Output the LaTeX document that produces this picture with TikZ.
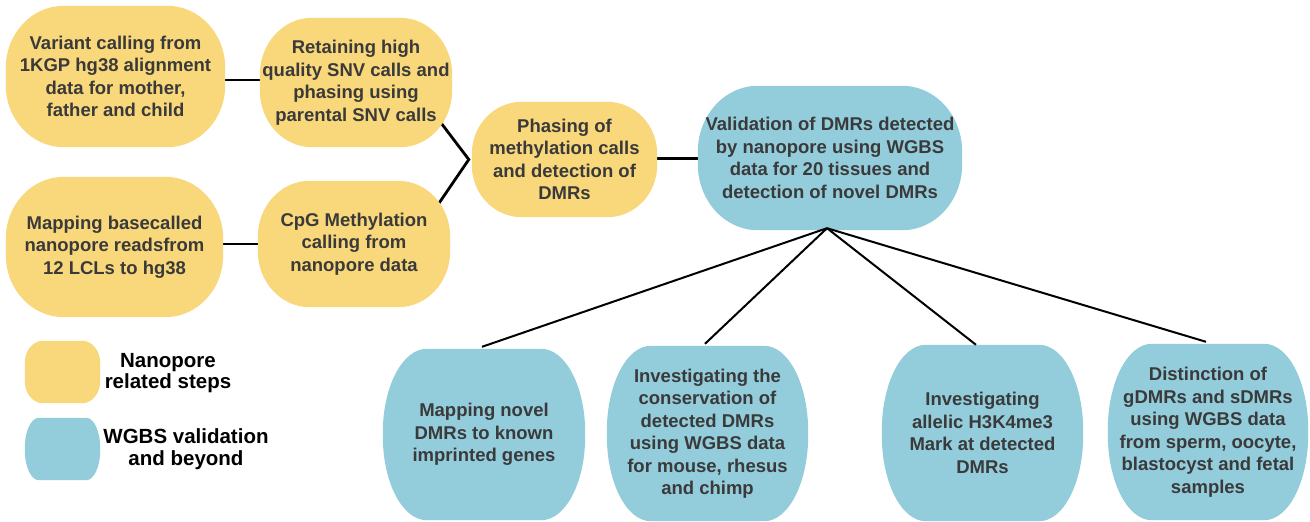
\documentclass[tikz,border=0pt]{standalone}
\usepackage{fontspec}
\setmainfont{Liberation Sans}
\usetikzlibrary{calc}
\definecolor{nano}{HTML}{F9D77B}
\definecolor{wgbs}{HTML}{93CDDC}
\definecolor{txt}{HTML}{3A3A3A}
\pgfdeclarelayer{bg}
\pgfdeclarelayer{lines}
\pgfdeclarelayer{shapes}
\pgfsetlayers{bg,lines,shapes,main}
\newcommand\blobfill[4]{%
\begin{pgfonlayer}{shapes}
\fill[#2] ([xshift=#3]#1.north west) -- ([xshift=-#3]#1.north east)
 arc[start angle=90,end angle=0,x radius=#3,y radius=#4]
 -- ([yshift=#4]#1.south east)
 arc[start angle=0,end angle=-90,x radius=#3,y radius=#4]
 -- ([xshift=#3]#1.south west)
 arc[start angle=270,end angle=180,x radius=#3,y radius=#4]
 -- ([yshift=-#4]#1.north west)
 arc[start angle=180,end angle=90,x radius=#3,y radius=#4]
 -- cycle;
\end{pgfonlayer}}
\begin{document}
\begin{tikzpicture}[x=1pt,y=-1pt,
  box/.style={rectangle,inner sep=0pt,align=center,text=txt,
    font=\bfseries\fontsize{18.5}{22.5}\selectfont},
  legtext/.style={rectangle,inner sep=0pt,align=center,text=black,
    font=\bfseries\fontsize{20.5}{21.5}\selectfont},
  link/.style={line width=2.8pt,black},
  fanline/.style={line width=2pt,black}]
\useasboundingbox (0,0) rectangle (1310,522);
\begin{pgfonlayer}{bg}
\fill[white] (0,0) rectangle (1310,522);
\end{pgfonlayer}

% top nodes
\node[box,minimum width=219pt,minimum height=141pt] (v1) at (115.5,76.5)
  {Variant calling from\\1KGP hg38 alignment\\data for mother,\\father and child};
\node[box,minimum width=192pt,minimum height=129pt] (r1) at (356,82.5)
  {Retaining high\\quality SNV calls and\\phasing using\\parental SNV calls};
\node[box,minimum width=217pt,minimum height=140pt] (m1) at (114.5,247)
  {Mapping basecalled\\nanopore readsfrom\\12 LCLs to hg38};
\node[box,minimum width=192pt,minimum height=126pt] (c1) at (354,244)
  {CpG Methylation\\calling from\\nanopore data};
\node[box,minimum width=185pt,minimum height=115pt] (p1) at (564.5,159.5)
  {Phasing of\\methylation calls\\and detection of\\DMRs};
\node[box,minimum width=264pt,minimum height=144pt] (val) at (830,158)
  {Validation of DMRs detected\\by nanopore using WGBS\\data for 20 tissues and\\detection of novel DMRs};

% bottom nodes
\node[box,minimum width=202pt,minimum height=171pt] (A) at (484,434.5)
  {Mapping novel\\DMRs to known\\imprinted genes};
\node[box,minimum width=201pt,minimum height=175pt] (B) at (707.5,433.5)
  {Investigating the\\conservation of\\detected DMRs\\using WGBS data\\for mouse, rhesus\\and chimp};
\node[box,minimum width=201pt,minimum height=176pt] (C) at (982.5,433)
  {Investigating\\allelic H3K4me3\\Mark at detected\\DMRs};
\node[box,minimum width=200pt,minimum height=176pt] (D) at (1208,432)
  {Distinction of\\gDMRs and sDMRs\\using WGBS data\\from sperm, oocyte,\\blastocyst and fetal\\samples};

% legend
\node[box,minimum width=75pt,minimum height=62pt] (legN) at (62.5,372) {};
\node[box,minimum width=75pt,minimum height=62pt] (legW) at (62.5,449) {};
\node[legtext] (legNt) at (168,373) {Nanopore\\related steps};
\node[legtext] (legWt) at (186,449) {WGBS validation\\and beyond};

% shapes
\blobfill{v1}{nano}{58pt}{62pt}
\blobfill{r1}{nano}{52pt}{57pt}
\blobfill{m1}{nano}{58pt}{62pt}
\blobfill{c1}{nano}{52pt}{56pt}
\blobfill{p1}{nano}{50pt}{52pt}
\blobfill{val}{wgbs}{60pt}{66pt}
\blobfill{A}{wgbs}{44pt}{84pt}
\blobfill{B}{wgbs}{44pt}{86pt}
\blobfill{C}{wgbs}{44pt}{86pt}
\blobfill{D}{wgbs}{44pt}{86pt}
\blobfill{legN}{nano}{18pt}{22pt}
\blobfill{legW}{wgbs}{14pt}{30pt}

% connectors
\coordinate (j) at ([xshift=-3pt]p1.west);
\begin{pgfonlayer}{lines}
\draw[link] ([yshift=-3.5pt]v1.east) -- ([yshift=-3.5pt]v1.east -| r1.west);
\draw[link] ([yshift=3pt]m1.east) -- ([yshift=3pt]m1.east -| c1.west);
\draw[link,line join=miter] ([xshift=-14pt,yshift=28pt]r1.south east) -- (j)
  -- ([xshift=-13pt,yshift=-25pt]c1.north east);
\draw[link] ([yshift=1pt]p1.east) -- ([yshift=1pt]p1.east -| val.west);
\end{pgfonlayer}
\coordinate (fan) at ([xshift=-3pt,yshift=2pt]val.south);
\draw[fanline] (fan) -- ([xshift=-2pt,yshift=2pt]A.north);
\draw[fanline] (fan) -- ([xshift=-2.5pt,yshift=2pt]B.north);
\draw[fanline] (fan) -- ([xshift=-6.5pt,yshift=0pt]C.north);
\draw[fanline] (fan) -- ([xshift=-2pt,yshift=2pt]D.north);
\end{tikzpicture}
\end{document}
